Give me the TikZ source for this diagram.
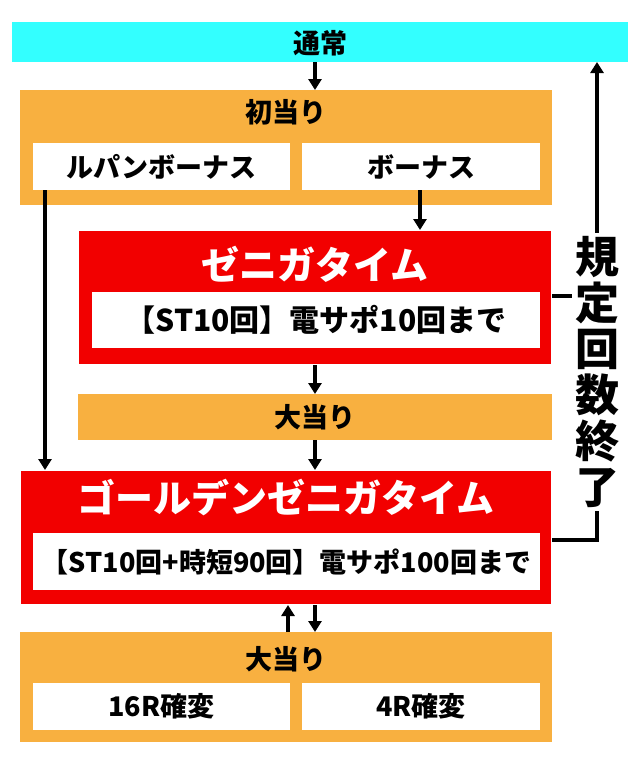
\documentclass[tikz,border=0pt]{standalone}
\usepackage{fontspec}
\setmainfont{Noto Sans CJK JP}
\usetikzlibrary{arrows.meta}
\definecolor{cyanbar}{HTML}{33FFFF}
\definecolor{orng}{HTML}{F8B040}
\definecolor{redbox}{HTML}{F20000}
\tikzset{
 box/.style={anchor=north west,inner sep=0,outer sep=0},
 orangebox/.style={box,fill=orng},
 redb/.style={box,fill=redbox,draw=white,line width=1.5pt},
 whitebox/.style={box,fill=white},
 ttl/.style={font=\bfseries\fontsize{27}{29}\selectfont},
 arr/.style={line width=3.5pt,-{Triangle[length=11pt,width=13pt]}},
 ln/.style={line width=3.5pt},
}
\begin{document}
\begin{tikzpicture}[x=1pt,y=-1pt]
\useasboundingbox (0,0) rectangle (640,761);
\node[box,fill=cyanbar,minimum width=616,minimum height=40] (top) at (12,22) {};
\node[ttl] at (320,43) {通常};
% 初当り
\node[orangebox,minimum width=532,minimum height=115] (first) at (20,90) {};
\node[ttl] at (286,112) {初当り};
\node[whitebox,minimum width=257,minimum height=47] (lupin) at (33,143) {};
\node[ttl] at (lupin.center) {ルパンボーナス};
\node[whitebox,minimum width=238,minimum height=47] (bonus) at (302,143) {};
\node[ttl] at (bonus.center) {ボーナス};
% ゼニガタイム
\node[redb,minimum width=474,minimum height=135] (zeni) at (78,230) {};
\node[font=\bfseries\fontsize{38}{40}\selectfont,text=white] at (315,264) {ゼニガタイム};
\node[whitebox,minimum width=448,minimum height=56] (zenitxt) at (92,292) {};
\node[font=\bfseries\fontsize{30}{32}\selectfont] at (zenitxt.center) {【ST10回】電サポ10回まで};
% 大当り 1
\node[orangebox,minimum width=474,minimum height=46] (hit1) at (78,394) {};
\node[ttl] at (hit1.center) {大当り};
% Golden
\node[redb,minimum width=532,minimum height=135] (gold) at (20,470) {};
\node[font=\bfseries\fontsize{38}{40}\selectfont,text=white] at (286,498) {ゴールデンゼニガタイム};
\node[whitebox,minimum width=507,minimum height=57] (goldtxt) at (33,533) {};
\node[font=\bfseries\fontsize{27}{29}\selectfont] at (goldtxt.center) {【ST10回+時短90回】電サポ100回まで};
% 大当り 2
\node[orangebox,minimum width=532,minimum height=110] (hit2) at (20,632) {};
\node[ttl] at (286,659) {大当り};
\node[whitebox,minimum width=257,minimum height=47] (r16) at (33,683) {};
\node[ttl] at (r16.center) {16R確変};
\node[whitebox,minimum width=238,minimum height=47] (r4) at (302,683) {};
\node[ttl] at (r4.center) {4R確変};
% arrows
\draw[arr] (top.south -| 315,0) -- (first.north -| 315,0);
\draw[arr] (bonus.south -| 420,0) -- (zeni.north -| 420,0);
\draw[arr] (zeni.south -| 315,0) -- (hit1.north -| 315,0);
\draw[arr] (hit1.south -| 315,0) -- (gold.north -| 315,0);
\draw[arr] (lupin.south -| 45,0) -- (gold.north -| 45,0);
\draw[arr] (hit2.north -| 288,0) -- (gold.south -| 288,0);
\draw[arr] (gold.south -| 315,0) -- (hit2.north -| 315,0);
% return line
\coordinate (c1) at (597,296);
\coordinate (c2) at (597,540);
\draw[ln] (zeni.east |- c1) -- (c1);
\draw[ln] (gold.east |- c2) -- (c2) -- (c2 |- 0,300);
\draw[arr] (c2 |- 0,300) -- (top.south -| c2);
\node[fill=white,inner sep=3pt,align=center,font=\bfseries\fontsize{44}{46}\selectfont] (ret) at (597,372) {規\\定\\回\\数\\終\\了};
\end{tikzpicture}
\end{document}
